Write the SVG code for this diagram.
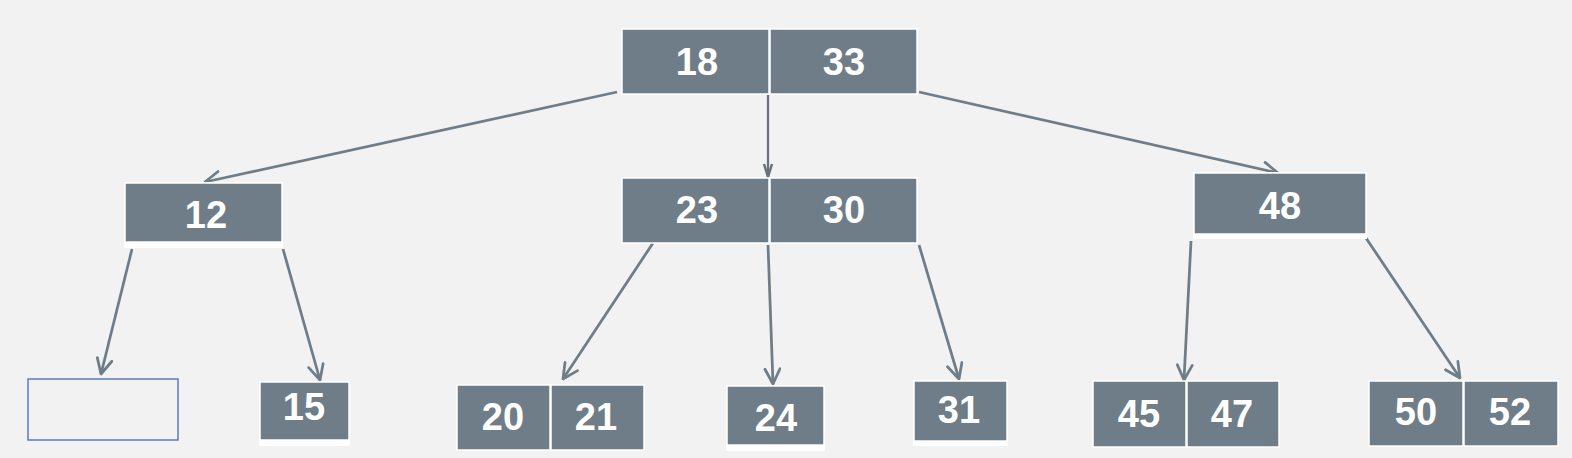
<svg xmlns="http://www.w3.org/2000/svg" width="1572" height="458" viewBox="0 0 1572 458">
<defs>
<style>
.cell{fill:#6e7d88;stroke:#ffffff;stroke-width:1.5}
.strip{fill:#ffffff}
.t{font-family:"Liberation Sans",Arial,sans-serif;font-weight:bold;font-size:38px;fill:#ffffff;text-anchor:middle}
.edge{stroke:#6e7d88;stroke-width:2.75;fill:none;marker-end:url(#arr)}
.edge2{stroke:#6b7078;stroke-width:2.25;fill:none;marker-end:url(#arr2)}
</style>
<marker id="arr" viewBox="0 0 18 18" refX="16.5" refY="9" markerUnits="userSpaceOnUse" markerWidth="18" markerHeight="18" orient="auto">
<path d="M1.5,1.5 L16.5,9 L1.5,16.5" fill="none" stroke="#6e7d88" stroke-width="2.75" stroke-linecap="round" stroke-linejoin="round"/>
</marker>
<marker id="arr2" viewBox="0 0 16 16" refX="15" refY="8" markerUnits="userSpaceOnUse" markerWidth="16" markerHeight="16" orient="auto">
<path d="M2,4 L15,8 L2,12" fill="none" stroke="#6b7078" stroke-width="2.5" stroke-linejoin="round"/>
</marker>
</defs>
<rect x="0" y="0" width="1572" height="458" fill="#f2f2f2"/>
<g id="connectors">
<line class="edge" x1="617" y1="92" x2="205" y2="182"/>
<line class="edge2" x1="768" y1="95" x2="768" y2="177"/>
<line class="edge" x1="919" y1="92" x2="1278" y2="173"/>
<line class="edge" x1="132" y1="249" x2="101" y2="374"/>
<line class="edge" x1="283" y1="249" x2="320" y2="380"/>
<line class="edge" x1="653" y1="243" x2="563" y2="379"/>
<line class="edge" x1="768" y1="245" x2="773" y2="384"/>
<line class="edge" x1="919" y1="245" x2="959" y2="379"/>
<line class="edge" x1="1191" y1="241" x2="1184" y2="380"/>
<line class="edge" x1="1366" y1="238" x2="1460" y2="378"/>
</g>
<g id="node-18-33">
<rect class="cell" x="622" y="29" width="147" height="65"/>
<rect class="cell" x="770" y="29" width="147" height="65"/>
<text class="t" x="697" y="75">18</text>
<text class="t" x="844" y="75">33</text>
</g>
<g id="node-12">
<rect class="strip" x="124" y="182" width="159" height="66"/>
<rect class="cell" x="125" y="183" width="157" height="59"/>
<text class="t" x="206" y="228">12</text>
</g>
<g id="node-23-30">
<rect class="cell" x="622" y="178" width="147" height="65"/>
<rect class="cell" x="770" y="178" width="147" height="65"/>
<text class="t" x="697" y="223">23</text>
<text class="t" x="844" y="223">30</text>
</g>
<g id="node-48">
<rect class="strip" x="1193" y="172" width="174" height="67"/>
<rect class="cell" x="1194" y="173" width="172" height="61"/>
<text class="t" x="1280" y="219">48</text>
</g>
<g id="node-empty">
<rect x="28" y="379" width="150" height="61" fill="none" stroke="#5b7bc8" stroke-width="1.5"/>
</g>
<g id="node-15">
<rect class="strip" x="259" y="381" width="91" height="65"/>
<rect class="cell" x="260" y="382" width="89" height="58"/>
<text class="t" x="304" y="420">15</text>
</g>
<g id="node-20-21">
<rect class="cell" x="457" y="385" width="93" height="65"/>
<rect class="cell" x="551" y="385" width="93" height="65"/>
<text class="t" x="503" y="430">20</text>
<text class="t" x="596" y="430">21</text>
</g>
<g id="node-24">
<rect class="strip" x="726" y="385" width="99" height="66"/>
<rect class="cell" x="727" y="386" width="97" height="59"/>
<text class="t" x="776" y="431">24</text>
</g>
<g id="node-31">
<rect class="strip" x="913" y="380" width="95" height="66"/>
<rect class="cell" x="914" y="381" width="93" height="60"/>
<text class="t" x="959" y="423">31</text>
</g>
<g id="node-45-47">
<rect class="cell" x="1093" y="381" width="93" height="66"/>
<rect class="cell" x="1187" y="381" width="92" height="66"/>
<text class="t" x="1139" y="427">45</text>
<text class="t" x="1232" y="427">47</text>
</g>
<g id="node-50-52">
<rect class="cell" x="1369" y="381" width="94" height="65"/>
<rect class="cell" x="1464" y="381" width="94" height="65"/>
<text class="t" x="1416" y="425">50</text>
<text class="t" x="1510" y="425">52</text>
</g>
</svg>
